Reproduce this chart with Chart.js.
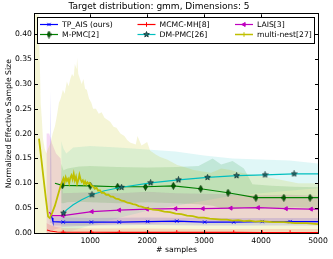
<!DOCTYPE html>
<html>
<head>
<meta charset="utf-8">
<script src="https://cdn.jsdelivr.net/npm/chart.js@4/dist/chart.umd.min.js"></script>
<style>
  html, body { margin: 0; padding: 0; background: #fff; }
</style>
</head>
<body>
<canvas id="myChart" width="333" height="259"></canvas>
<script>
'use strict';

// axis ticks
const xTicks = [1000, 2000, 3000, 4000, 5000];
const yTicks = [0.00, 0.05, 0.10, 0.15, 0.20, 0.25, 0.30, 0.35, 0.40];

// TP_AIS (ours)
const tpX = [310, 330, 345, 525, 1020, 1510, 2010, 2520, 3010, 3520, 4020, 4510, 5000];
const tpY = [0.037, 0.030, 0.023, 0.022, 0.022, 0.022, 0.023, 0.024, 0.022, 0.022, 0.023, 0.023, 0.023];
const tpMarks = [3, 4, 5, 6, 7, 8, 9, 10, 11];
const tpBandX = [285, 305, 325, 345, 1000, 2000, 3000, 4000, 5000];
const tpUp = [0.040, 0.287, 0.045, 0.032, 0.030, 0.031, 0.030, 0.030, 0.030];
const tpLo = [0.020, 0.020, 0.020, 0.015, 0.015, 0.016, 0.015, 0.015, 0.015];

// MCMC-MH[8]
const mhX = [240, 300, 360, 420, 525, 1020, 1510, 2010, 2520, 3010, 3520, 4020, 4510, 5000];
const mhY = [0.006, 0.004, 0.003, 0.002, 0.0015, 0.0015, 0.0013, 0.0012, 0.0012, 0.0011, 0.0011, 0.0010, 0.0010, 0.0010];
const mhMarks = [4, 5, 6, 7, 8, 9, 10, 11, 12];
const mhBandX = [230, 300, 400, 500, 1000, 2000, 3000, 4000, 5000];
const mhUp = [0.020, 0.016, 0.012, 0.010, 0.009, 0.009, 0.008, 0.008, 0.008];
const mhLo = [0, 0, 0, 0, 0, 0, 0, 0, 0];

// LAIS[3]
const laX = [280, 330, 520, 1030, 1510, 2000, 2500, 2980, 3470, 3950, 4440, 4880, 5000];
const laY = [0.042, 0.035, 0.035, 0.043, 0.046, 0.048, 0.049, 0.049, 0.050, 0.051, 0.049, 0.048, 0.048];
const laMarks = [2, 3, 4, 5, 6, 7, 8, 9, 10, 11];
const laBandX = [230, 280, 330, 400, 480, 520, 1000, 1500, 2000, 2500, 3000, 3500, 4000, 4500, 5000];
const laUp = [0.200, 0.200, 0.180, 0.160, 0.150, 0.080, 0.082, 0.080, 0.083, 0.080, 0.079, 0.078, 0.076, 0.077, 0.075];
const laLo = [0, 0, 0.005, 0.008, 0.010, 0.012, 0.015, 0.018, 0.018, 0.020, 0.020, 0.022, 0.022, 0.020, 0.020];

// M-PMC[2]
const mpX = [380, 510, 1000, 1480, 1970, 2460, 2940, 3420, 3910, 4400, 4860, 5000];
const mpY = [0.100, 0.096, 0.095, 0.093, 0.093, 0.095, 0.089, 0.081, 0.071, 0.071, 0.071, 0.071];
const mpMarks = [1, 2, 3, 4, 5, 6, 7, 8, 9, 10];
const mpBandX = [490, 530, 600, 800, 1000, 1500, 2000, 2500, 2900, 3150, 3300, 3500, 3700, 3850, 4200, 4600, 5000];
const mpUp = [0.140, 0.126, 0.130, 0.134, 0.135, 0.133, 0.132, 0.133, 0.135, 0.150, 0.138, 0.145, 0.130, 0.098, 0.095, 0.093, 0.092];
const mpLo = [0.060, 0.060, 0.062, 0.063, 0.062, 0.060, 0.062, 0.060, 0.058, 0.055, 0.050, 0.048, 0.050, 0.050, 0.050, 0.052, 0.050];

// DM-PMC[26]
const dmX = [530, 580, 700, 850, 1030, 1250, 1550, 2060, 2550, 3060, 3570, 4070, 4580, 5000];
const dmY = [0.040, 0.046, 0.057, 0.067, 0.077, 0.085, 0.092, 0.101, 0.107, 0.112, 0.1155, 0.117, 0.119, 0.119];
const dmMarks = [0, 4, 6, 7, 8, 9, 10, 11, 12];
const dmBandX = [490, 530, 580, 700, 1000, 1500, 2000, 2500, 3000, 3500, 4000, 4500, 5000];
const dmUp = [0.185, 0.170, 0.160, 0.172, 0.175, 0.172, 0.168, 0.164, 0.156, 0.150, 0.148, 0.146, 0.140];
const dmLo = [0, 0, 0, 0.005, 0.015, 0.030, 0.045, 0.055, 0.065, 0.075, 0.080, 0.085, 0.090];

// multi-nest[27]
const mnX = [100, 140, 180, 220, 260, 290, 330, 380, 430, 480, 510, 530, 550, 570, 590, 610, 630, 650, 670, 690,
  710, 730, 750, 770, 790, 810, 830, 850, 870, 890, 910, 930, 950, 970, 990, 1020, 1050, 1080, 1110, 1140,
  1170, 1200, 1240, 1280, 1320, 1360, 1400, 1450, 1500, 1550, 1600, 1650, 1700, 1750, 1800, 1850, 1900, 1950,
  2000, 2100, 2200, 2300, 2400, 2500, 2600, 2700, 2800, 2900, 3000, 3100, 3200, 3300, 3400, 3500, 3600, 3700,
  3800, 3900, 4000, 4200, 4400, 4600, 4800, 5000];
const mnY = [0.190, 0.150, 0.110, 0.070, 0.033, 0.030, 0.040, 0.055, 0.075, 0.095, 0.104, 0.110, 0.102, 0.112, 0.105, 0.109, 0.100, 0.111, 0.116, 0.108,
  0.119, 0.106, 0.113, 0.099, 0.106, 0.117, 0.108, 0.103, 0.106, 0.099, 0.104, 0.098, 0.102, 0.099, 0.101, 0.095, 0.094, 0.089, 0.091, 0.085,
  0.086, 0.081, 0.081, 0.077, 0.077, 0.073, 0.073, 0.069, 0.068, 0.065, 0.064, 0.061, 0.060, 0.058, 0.057, 0.054, 0.053, 0.051,
  0.050, 0.047, 0.046, 0.043, 0.042, 0.039, 0.038, 0.035, 0.034, 0.031, 0.031, 0.029, 0.028, 0.027, 0.027, 0.025, 0.026, 0.024,
  0.025, 0.023, 0.024, 0.022, 0.022, 0.020, 0.020, 0.018];
const mnBandX = [30, 90, 100, 115, 130, 150, 170, 200, 230, 260, 300, 340, 380, 420, 450, 480, 520, 550, 590, 620,
  650, 680, 710, 730, 760, 770, 790, 820, 850, 880, 910, 940, 980, 1020, 1050, 1100, 1150, 1200, 1250, 1300,
  1350, 1410, 1460, 1530, 1600, 1650, 1700, 1800, 1830, 1900, 2000, 2050, 2150, 2230, 2350, 2530, 2650, 2820,
  2950, 3120, 3300, 3470, 3600, 3800, 4060, 4300, 4650, 5000];
const mnUp = [0.470, 0.470, 0.400, 0.340, 0.260, 0.230, 0.190, 0.170, 0.160, 0.170, 0.180, 0.200, 0.215, 0.240, 0.262, 0.270, 0.288, 0.280, 0.305, 0.295,
  0.310, 0.320, 0.315, 0.340, 0.330, 0.352, 0.320, 0.310, 0.300, 0.310, 0.290, 0.288, 0.270, 0.262, 0.250, 0.250, 0.240, 0.243, 0.232, 0.228,
  0.224, 0.214, 0.212, 0.200, 0.195, 0.187, 0.182, 0.178, 0.195, 0.176, 0.183, 0.166, 0.158, 0.153, 0.148, 0.137, 0.133, 0.127,
  0.124, 0.121, 0.130, 0.127, 0.122, 0.118, 0.113, 0.108, 0.100, 0.100];

const labels = ['TP_AIS (ours)', 'MCMC-MH[8]', 'LAIS[3]', 'M-PMC[2]', 'DM-PMC[26]', 'multi-nest[27]'];

// point markers that Chart.js does not have
function makeStar(size, fill, stroke) {
  const c = document.createElement('canvas');
  c.width = size; c.height = size;
  const g = c.getContext('2d');
  const R = size / 2 - 0.5, r = R * 0.45;
  g.beginPath();
  for (let i = 0; i < 10; i++) {
    const a = -Math.PI / 2 + i * Math.PI / 5;
    const rr = i % 2 ? r : R;
    g.lineTo(size / 2 + rr * Math.cos(a), size / 2 + rr * Math.sin(a));
  }
  g.closePath();
  g.fillStyle = fill; g.fill();
  g.strokeStyle = stroke; g.lineWidth = 0.7; g.stroke();
  return c;
}
function makeDiamond(w, h, fill, stroke) {
  const c = document.createElement('canvas');
  c.width = w; c.height = h;
  const g = c.getContext('2d');
  g.beginPath();
  g.moveTo(w / 2, 0.5); g.lineTo(w - 0.5, h / 2); g.lineTo(w / 2, h - 0.5); g.lineTo(0.5, h / 2);
  g.closePath();
  g.fillStyle = fill; g.fill();
  g.strokeStyle = stroke; g.lineWidth = 0.7; g.stroke();
  return c;
}
const starImg = makeStar(7, '#1e6b6b', '#0a2626');
const diamondImg = makeDiamond(5, 8, '#006400', '#002800');

const pts = (xs, ys) => xs.map((x, i) => ({x: x, y: ys[i]}));

const series = [
  {label: labels[0], x: tpX, y: tpY, marks: tpMarks, color: '#0000ff', style: 'crossRot', radius: 2.3, rot: 0,
    bx: tpBandX, up: tpUp, lo: tpLo, band: 'rgba(0,0,255,0.14)'},
  {label: labels[1], x: mhX, y: mhY, marks: mhMarks, color: '#ff0000', style: 'cross', radius: 2.3, rot: 0,
    bx: mhBandX, up: mhUp, lo: mhLo, band: 'rgba(255,0,0,0.14)'},
  {label: labels[2], x: laX, y: laY, marks: laMarks, color: '#bf00bf', style: 'triangle', radius: 2.3, rot: -90,
    bx: laBandX, up: laUp, lo: laLo, band: 'rgba(191,0,191,0.15)'},
  {label: labels[3], x: mpX, y: mpY, marks: mpMarks, color: '#008000', style: diamondImg, radius: 3, rot: 0,
    bx: mpBandX, up: mpUp, lo: mpLo, band: 'rgba(0,128,0,0.14)'},
  {label: labels[4], x: dmX, y: dmY, marks: dmMarks, color: '#00bfbf', style: starImg, radius: 3, rot: 0,
    bx: dmBandX, up: dmUp, lo: dmLo, band: 'rgba(0,191,191,0.12)'},
  {label: labels[5], x: mnX, y: mnY, marks: [], color: '#bfbf00', style: 'line', radius: 0, rot: 0,
    bx: mnBandX, up: mnUp, lo: null, band: 'rgba(191,191,0,0.16)'}
];

const datasets = [];
// shaded bands underneath
series.forEach((s, i) => {
  datasets.push({
    data: pts(s.bx, s.up),
    borderWidth: 0, borderColor: 'transparent', pointRadius: 0,
    backgroundColor: s.band,
    fill: s.lo ? '+1' : 'origin',
    order: 50 - i
  });
  if (s.lo) {
    datasets.push({
      data: pts(s.bx, s.lo),
      borderWidth: 0, borderColor: 'transparent', pointRadius: 0,
      fill: false, order: 50 - i
    });
  }
});
// lines with markers
series.forEach((s, i) => {
  datasets.push({
    label: s.label,
    data: pts(s.x, s.y),
    borderColor: s.color,
    backgroundColor: s.color,
    borderWidth: i === 5 ? 1.8 : 1.2,
    fill: false,
    tension: 0,
    pointStyle: s.style,
    pointRotation: s.rot,
    pointBorderColor: s.color,
    pointBackgroundColor: s.color,
    pointBorderWidth: 1,
    pointRadius: c => s.marks.includes(c.dataIndex) ? s.radius : 0,
    order: 10 - i
  });
});

// box, inward ticks and legend like matplotlib
const framePlugin = {
  id: 'frame',
  afterDraw(chart) {
    const {ctx, chartArea: a, scales: {x, y}} = chart;
    ctx.save();
    ctx.strokeStyle = '#000';
    ctx.lineWidth = 1;
    ctx.beginPath();
    xTicks.forEach(v => {
      const px = Math.round(x.getPixelForValue(v)) + 0.5;
      ctx.moveTo(px, a.bottom); ctx.lineTo(px, a.bottom - 3);
      ctx.moveTo(px, a.top); ctx.lineTo(px, a.top + 3);
    });
    yTicks.forEach(v => {
      const py = Math.round(y.getPixelForValue(v)) + 0.5;
      ctx.moveTo(a.left, py); ctx.lineTo(a.left + 3, py);
      ctx.moveTo(a.right, py); ctx.lineTo(a.right - 3, py);
    });
    ctx.stroke();
    ctx.strokeRect(Math.round(a.left) - 0.5, Math.round(a.top) - 0.5,
      Math.round(a.right - a.left) + 1, Math.round(a.bottom - a.top) + 1);

    // legend
    const bx = Math.round(a.left) + 2.5, by = Math.round(a.top) + 3.5;
    const bw = Math.round(a.right - a.left) - 6, bh = 26;
    ctx.fillStyle = '#fff';
    ctx.fillRect(bx, by, bw, bh);
    ctx.strokeStyle = '#000';
    ctx.strokeRect(bx, by, bw, bh);
    const colW = 97.5;
    ctx.font = '7.7px "DejaVu Sans"';
    ctx.textBaseline = 'middle';
    ctx.textAlign = 'left';
    series.forEach((s, i) => {
      const col = i % 3, row = Math.floor(i / 3);
      const lx = bx + 2.5 + col * colW, ly = by + 7 + row * 10;
      ctx.strokeStyle = s.color;
      ctx.lineWidth = i === 5 ? 1.5 : 1.2;
      ctx.beginPath();
      ctx.moveTo(lx, ly); ctx.lineTo(lx + 18, ly);
      ctx.stroke();
      ctx.fillStyle = s.color;
      ctx.lineWidth = 1;
      const mk = i === 5 ? {pointStyle: 'cross', radius: 2.3, rotation: 0, borderWidth: 1}
        : {pointStyle: s.style, radius: s.radius, rotation: s.rot, borderWidth: 1};
      Chart.helpers.drawPoint(ctx, mk, lx + 9, ly);
      ctx.fillStyle = '#000';
      ctx.fillText(s.label, lx + 22, ly + 0.5);
    });
    ctx.restore();
  }
};

Chart.defaults.font.family = "'DejaVu Sans', sans-serif";
Chart.defaults.color = '#000';

new Chart(document.getElementById('myChart'), {
  type: 'line',
  data: {datasets: datasets},
  options: {
    responsive: false,
    animation: false,
    events: [],
    layout: {padding: {left: 0, right: 15, top: 0, bottom: 0}},
    plugins: {
      legend: {display: false},
      tooltip: {enabled: false},
      title: {
        display: true,
        text: 'Target distribution: gmm, Dimensions: 5',
        font: {size: 9, weight: 'normal'},
        padding: {top: 1.5, bottom: 2}
      }
    },
    scales: {
      x: {
        type: 'linear',
        min: 30,
        max: 5000,
        grid: {display: false, drawTicks: false},
        border: {display: false},
        ticks: {padding: 3, font: {size: 7.7}, maxRotation: 0, autoSkip: false, callback: v => String(v)},
        afterBuildTicks: s => { s.ticks = xTicks.map(v => ({value: v})); },
        afterFit: s => { s.height = 26; },
        title: {display: true, text: '# samples', font: {size: 7.7}, padding: {top: 1, bottom: 4}}
      },
      y: {
        min: 0,
        max: 0.44,
        grid: {display: false, drawTicks: false},
        border: {display: false},
        ticks: {padding: 3, font: {size: 7.7}, callback: v => v.toFixed(2)},
        afterBuildTicks: s => { s.ticks = yTicks.map(v => ({value: v})); },
        afterFit: s => { s.width = 35; },
        title: {display: true, text: 'Normalized Effective Sample Size', font: {size: 7.7}, padding: {top: 4, bottom: 0}}
      }
    }
  },
  plugins: [framePlugin]
});
</script>
</body>
</html>
